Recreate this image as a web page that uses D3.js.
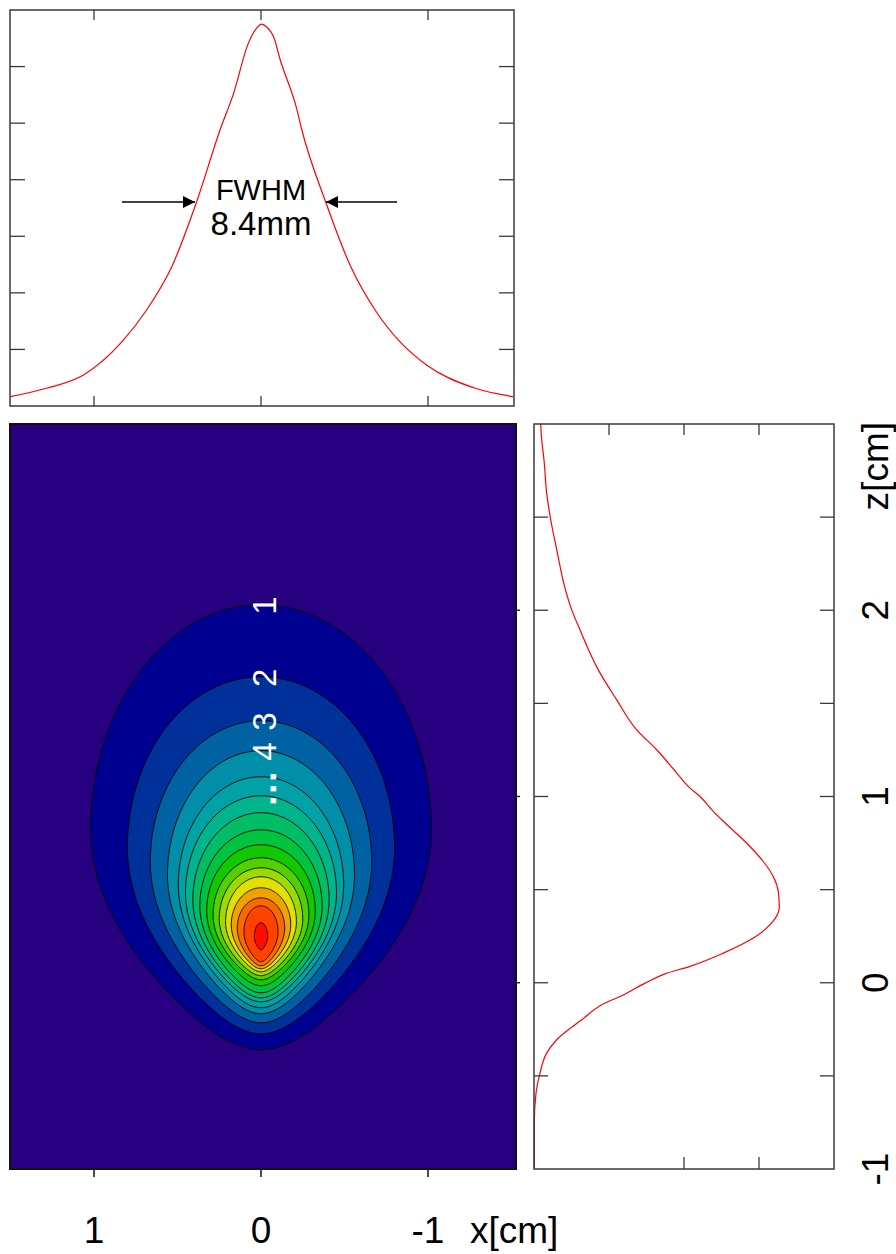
<!DOCTYPE html>
<html><head><meta charset="utf-8">
<script src="https://cdn.jsdelivr.net/npm/d3@7"></script>
<style>body{margin:0;background:#fff} text{font-family:Arial,"Liberation Sans",sans-serif}</style>
</head><body><svg id="c" width="896" height="1254"></svg>
<script>
// ---- lateral profile (top panel): x [cm] vs intensity
const profX    = [1.50,1.285,1.063,0.832,0.685,0.530,0.389,0.238,0.167,0.076,0.026,-0.004,-0.034,-0.075,-0.115,-0.216,-0.242,-0.387,-0.538,-0.689,-0.840,-0.991,-1.284,-1.509];
const profXVal = [0.165,0.313,0.548,1.137,1.697,2.49,3.58,4.94,5.50,6.41,6.68,6.75,6.70,6.53,6.12,5.23,4.91,3.61,2.46,1.67,1.11,0.725,0.313,0.165];
// ---- depth profile (right panel): z [cm] vs intensity
const profZ    = [3.0,2.914,2.808,2.629,2.486,2.325,2.119,2.002,1.895,1.680,1.519,1.358,1.251,1.126,1.045,1.000,0.920,0.875,0.741,0.651,0.571,0.490,0.406,0.321,0.240,0.159,0.088,0.048,-0.002,-0.074,-0.109,-0.199,-0.306,-0.378,-0.485,-0.592,-0.753,-0.995];
const profZVal = [0.089,0.103,0.133,0.169,0.223,0.303,0.413,0.503,0.613,0.857,1.103,1.369,1.636,1.903,2.08,2.213,2.391,2.503,2.857,3.057,3.19,3.257,3.271,3.169,2.924,2.524,2.08,1.747,1.48,1.147,0.947,0.636,0.303,0.169,0.080,0.027,0.004,0.004];
// ---- contour levels (main panel): extents [cm]
const levels      = [1,2,3,4,5,6,7,8,9,10,11,12,13,14,15,16];
const levelTop    = [2.03,1.643,1.407,1.246,1.106,1.004,0.913,0.821,0.741,0.671,0.617,0.569,0.510,0.456,0.413,0.322];
const levelWide   = [0.821,0.725,0.650,0.580,0.526,0.483,0.446,0.413,0.387,0.365,0.344,0.328,0.311,0.295,0.274,0.247];
const levelBottom = [-0.360,-0.274,-0.215,-0.166,-0.134,-0.102,-0.081,-0.054,-0.016,0.016,0.038,0.059,0.075,0.091,0.113,0.177];
const levelHalfW  = [1.02,0.80,0.663,0.560,0.495,0.452,0.408,0.366,0.325,0.287,0.250,0.212,0.178,0.142,0.102,0.040];
const levelColors = ["#000090","#00309a","#0062a2","#008ea8","#00a2a6","#00b48c","#00bd66","#00c43e","#12c900","#52d000","#9cdb00","#e2e000","#f0a200","#f86a00","#ff4200","#ff0c00"];
const bgColor = "#270080";
const contourLabels = [{t:"1",lv:1},{t:"2",lv:2},{t:"3",lv:3},{t:"4",lv:4}];
const xTicks = [1,0,-1];
const zTickLabels = [2,1,0,-1];
const zMinor = [-0.5,0,0.5,1,1.5,2,2.5];
const topYTicks = [1,2,3,4,5,6];
const rightTopTicks = [1,2,3], rightBottomTicks = [2,3];

const svg = d3.select("#c");
const frame = "#3a3a3a";

// scales
const xMain = d3.scaleLinear().domain([1.503,-1.527]).range([10,516]);
const xTop  = d3.scaleLinear().domain([1.503,-1.515]).range([10,514]);
const yTop  = d3.scaleLinear().domain([0,7]).range([406,10]);
const zS    = d3.scaleLinear().domain([-1,3]).range([1169,424]);
const iS    = d3.scaleLinear().domain([0,4]).range([534,834]);

// ===== top panel
const gT = svg.append("g");
gT.append("path").datum(profX.map((x,i)=>[x,profXVal[i]]))
  .attr("d", d3.line().x(d=>xTop(d[0])).y(d=>yTop(d[1])).curve(d3.curveMonotoneX))
  .attr("fill","none").attr("stroke","#ff0000").attr("stroke-width",1.2);
topYTicks.forEach(v=>{
  gT.append("line").attr("x1",10).attr("x2",25).attr("y1",yTop(v)).attr("y2",yTop(v)).attr("stroke",frame).attr("stroke-width",1.3);
  gT.append("line").attr("x1",514).attr("x2",499).attr("y1",yTop(v)).attr("y2",yTop(v)).attr("stroke",frame).attr("stroke-width",1.3);
});
xTicks.forEach(v=>{
  gT.append("line").attr("x1",xTop(v)).attr("x2",xTop(v)).attr("y1",10).attr("y2",20).attr("stroke",frame).attr("stroke-width",1.3);
  gT.append("line").attr("x1",xTop(v)).attr("x2",xTop(v)).attr("y1",406).attr("y2",396).attr("stroke",frame).attr("stroke-width",1.3);
});
gT.append("rect").attr("x",10).attr("y",10).attr("width",504).attr("height",396).attr("fill","none").attr("stroke",frame).attr("stroke-width",1.5);
// FWHM annotation
svg.append("defs").html('<marker id="ah" viewBox="0 0 10 10" refX="10" refY="5" markerWidth="12" markerHeight="12" markerUnits="userSpaceOnUse" orient="auto"><path d="M0,0L10,5L0,10z" fill="#000"/></marker>');
gT.append("line").attr("x1",122).attr("x2",195).attr("y1",202).attr("y2",202).attr("stroke","#000").attr("stroke-width",1.5).attr("marker-end","url(#ah)");
gT.append("line").attr("x1",397).attr("x2",326).attr("y1",202).attr("y2",202).attr("stroke","#000").attr("stroke-width",1.5).attr("marker-end","url(#ah)");
gT.append("text").attr("x",261).attr("y",200).attr("text-anchor","middle").attr("font-size",29).text("FWHM");
gT.append("text").attr("x",261).attr("y",235).attr("text-anchor","middle").attr("font-size",33).text("8.4mm");

// ===== main contour panel
const gM = svg.append("g");
gM.append("rect").attr("x",10).attr("y",424).attr("width",506).attr("height",745).attr("fill",bgColor);
function shape(i){
  const hw=levelHalfW[i], zt=levelTop[i], zw=levelWide[i], zb=levelBottom[i], k=0.35, N=120, pts=[];
  for(let j=0;j<=N;j++){const t=Math.PI*j/N; pts.push([hw*Math.cos(t), zw+(zt-zw)*Math.sin(t)]);}
  for(let j=1;j<N;j++){const s=Math.PI*j/N, u=Math.sin(s); pts.push([-hw*Math.cos(s)*(1-k*u*u), zw-(zw-zb)*u]);}
  return pts;
}
const cLine = d3.line().x(d=>xMain(d[0])).y(d=>zS(d[1])).curve(d3.curveLinearClosed);
levels.forEach((lv,i)=>{
  gM.append("path").attr("d",cLine(shape(i))).attr("fill",levelColors[i]).attr("stroke","#000").attr("stroke-width",0.9);
});
contourLabels.forEach(c=>{
  const z = levelTop[c.lv-1];
  gM.append("text").attr("transform",`translate(${xMain(0)+15},${zS(z)+1}) rotate(-90)`)
    .attr("text-anchor","middle").attr("font-size",33).attr("fill","#fff").text(c.t);
});
gM.append("text").attr("transform",`translate(${xMain(0)+15},${zS(levelTop[4])+11}) rotate(-90)`)
  .attr("text-anchor","middle").attr("font-size",36).attr("font-weight","bold").attr("letter-spacing",2).attr("fill","#fff").text("...");
gM.append("rect").attr("x",10).attr("y",424).attr("width",506).attr("height",745).attr("fill","none").attr("stroke","#111").attr("stroke-width",2);
xTicks.forEach(v=>{
  gM.append("line").attr("x1",xMain(v)).attr("x2",xMain(v)).attr("y1",1169).attr("y2",1177).attr("stroke","#111").attr("stroke-width",1.5);
  svg.append("text").attr("x",xMain(v)).attr("y",1243).attr("text-anchor","middle").attr("font-size",37).text(v);
});
svg.append("text").attr("x",470).attr("y",1243).attr("font-size",37).text("x[cm]");
[0,1,2].forEach(v=>{
  gM.append("line").attr("x1",516).attr("x2",520).attr("y1",zS(v)).attr("y2",zS(v)).attr("stroke","#111").attr("stroke-width",1.3);
});

// ===== right panel
const gR = svg.append("g");
gR.append("path").datum(profZ.map((z,i)=>[z,profZVal[i]]))
  .attr("d", d3.line().x(d=>iS(d[1])).y(d=>zS(d[0])).curve(d3.curveMonotoneY))
  .attr("fill","none").attr("stroke","#ff0000").attr("stroke-width",1.2);
zMinor.forEach(v=>{
  gR.append("line").attr("x1",534).attr("x2",548).attr("y1",zS(v)).attr("y2",zS(v)).attr("stroke",frame).attr("stroke-width",1.3);
  gR.append("line").attr("x1",834).attr("x2",820).attr("y1",zS(v)).attr("y2",zS(v)).attr("stroke",frame).attr("stroke-width",1.3);
});
rightTopTicks.forEach(v=>gR.append("line").attr("x1",iS(v)).attr("x2",iS(v)).attr("y1",424).attr("y2",435).attr("stroke",frame).attr("stroke-width",1.3));
rightBottomTicks.forEach(v=>gR.append("line").attr("x1",iS(v)).attr("x2",iS(v)).attr("y1",1169).attr("y2",1157).attr("stroke",frame).attr("stroke-width",1.3));
gR.append("rect").attr("x",534).attr("y",424).attr("width",300).attr("height",745).attr("fill","none").attr("stroke",frame).attr("stroke-width",1.5);
zTickLabels.forEach(v=>{
  svg.append("text").attr("transform",`translate(888,${zS(v)}) rotate(-90)`).attr("text-anchor","middle").attr("font-size",37).text(v);
});
svg.append("text").attr("transform",`translate(888,422) rotate(-90)`).attr("text-anchor","end").attr("font-size",37).text("z[cm]");
</script></body></html>
